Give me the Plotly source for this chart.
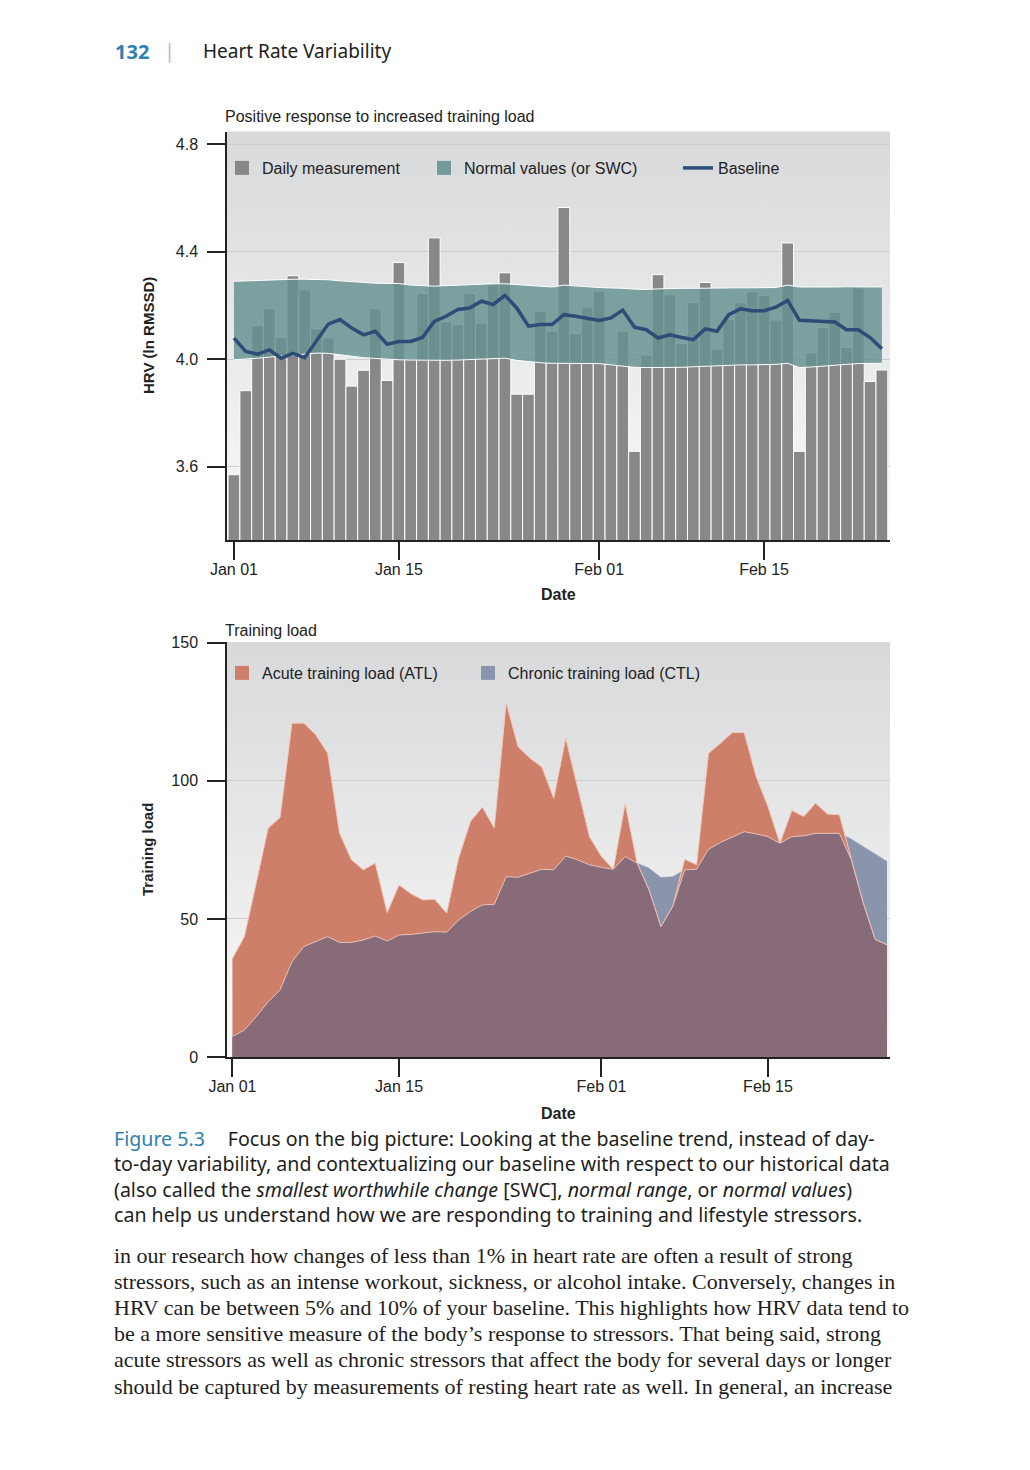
import base64
import numpy as np
import pandas as pd
import plotly.graph_objects as go

##### Data #####
days = pd.date_range('2021-01-01', periods=56, freq='D')

# daily HRV (ln RMSSD)
hrv_daily = [3.570, 3.883, 4.125, 4.188, 4.081, 4.311, 4.259, 4.113, 4.080, 4.000,
             3.900, 3.959, 4.188, 3.921, 4.360, 4.000, 4.245, 4.452, 4.140, 4.129,
             4.245, 4.135, 4.279, 4.322, 3.870, 3.870, 4.178, 4.103, 4.565, 4.096,
             4.194, 4.254, 3.982, 4.105, 3.657, 4.016, 4.315, 4.240, 4.059, 4.211,
             4.286, 4.037, 4.149, 4.210, 4.252, 4.237, 4.146, 4.433, 3.657, 4.024,
             4.118, 4.175, 4.044, 4.266, 3.917, 3.960]

# normal values (SWC band)
swc_upper = [4.290, 4.292, 4.294, 4.296, 4.297, 4.298, 4.298, 4.297, 4.296, 4.292,
             4.289, 4.285, 4.283, 4.282, 4.282, 4.276, 4.273, 4.272, 4.274, 4.276,
             4.278, 4.279, 4.281, 4.281, 4.278, 4.275, 4.272, 4.269, 4.276, 4.274,
             4.270, 4.267, 4.266, 4.264, 4.261, 4.260, 4.262, 4.264, 4.264, 4.264,
             4.265, 4.264, 4.265, 4.266, 4.266, 4.266, 4.267, 4.276, 4.269, 4.269,
             4.268, 4.269, 4.270, 4.270, 4.269, 4.269]
swc_lower = [3.998, 4.000, 4.004, 4.008, 4.012, 4.017, 4.021, 4.023, 4.022, 4.016,
             4.010, 4.006, 4.003, 4.000, 3.998, 3.997, 3.996, 3.996, 3.996, 3.997,
             3.999, 4.002, 4.004, 4.004, 3.996, 3.991, 3.987, 3.985, 3.985, 3.985,
             3.985, 3.984, 3.979, 3.975, 3.970, 3.969, 3.969, 3.969, 3.970, 3.972,
             3.974, 3.976, 3.978, 3.979, 3.979, 3.980, 3.981, 3.985, 3.969, 3.971,
             3.975, 3.978, 3.981, 3.984, 3.985, 3.985]

# baseline (rolling average)
baseline = [4.079, 4.029, 4.019, 4.035, 4.004, 4.022, 4.006, 4.066, 4.131, 4.148,
            4.116, 4.091, 4.104, 4.056, 4.066, 4.066, 4.081, 4.141, 4.160, 4.185,
            4.191, 4.216, 4.204, 4.238, 4.191, 4.123, 4.129, 4.129, 4.166, 4.160,
            4.151, 4.144, 4.154, 4.183, 4.119, 4.110, 4.079, 4.091, 4.081, 4.073,
            4.113, 4.104, 4.166, 4.188, 4.181, 4.181, 4.194, 4.219, 4.145, 4.144,
            4.141, 4.139, 4.110, 4.110, 4.081, 4.039]

# training load
atl = [35.7, 43.6, 63.0, 82.9, 86.7, 120.9, 120.9, 116.7, 110.0, 81.0,
       71.4, 67.8, 70.2, 52.3, 62.3, 59.1, 56.9, 57.1, 52.1, 72.0,
       85.3, 90.5, 82.9, 128.4, 112.4, 108.2, 105.0, 93.7, 115.5, 97.9,
       79.8, 72.6, 68.0, 91.9, 70.2, 60.5, 47.2, 54.5, 71.6, 69.6,
       110.0, 113.6, 117.5, 117.5, 101.6, 90.7, 77.4, 89.3, 87.1, 91.9,
       88.0, 87.7, 71.4, 55.7, 42.6, 40.6]
ctl = [7.4, 9.8, 14.6, 20.0, 24.3, 34.5, 40.0, 41.8, 43.6, 41.5,
       41.5, 42.4, 43.8, 42.0, 44.2, 44.4, 44.8, 45.4, 45.2, 49.6,
       52.7, 55.1, 55.3, 65.3, 65.1, 66.5, 68.0, 67.8, 72.8, 71.4,
       69.6, 68.7, 68.0, 72.6, 70.2, 68.4, 65.0, 65.3, 67.8, 68.0,
       75.2, 77.7, 79.8, 81.6, 80.8, 79.8, 77.7, 79.8, 80.1, 81.0,
       81.0, 81.0, 78.9, 76.2, 73.2, 70.8]

date_ticks = ['2021-01-01', '2021-01-15', '2021-02-01', '2021-02-15']
date_labels = ['Jan 01', 'Jan 15', 'Feb 01', 'Feb 15']
hrv_ticks = [3.6, 4.0, 4.4, 4.8]
load_ticks = [0, 50, 100, 150]

##### Styling #####
# the browser page keeps its 8px body margin, so the figure is 16px smaller
PAGE_MARGIN = 8
W, H = 1030 - 2 * PAGE_MARGIN, 1470 - 2 * PAGE_MARGIN
BAR_GREY = '#88888b'
TEAL = 'rgba(102,144,144,0.83)'
NAVY = '#2c4d77'
ORANGE = '#cd7f69'
SLATE = '#8a94ad'
MAUVE = '#876b78'
INK = '#222222'
BLUE_TXT = '#2f80b0'
CHART_FONT = 'Liberation Sans'
SANS = 'Noto Sans'
SERIF = 'Liberation Serif'

# soft grey-to-white background of the plot areas
grad_svg = (
    "<svg xmlns='http://www.w3.org/2000/svg' width='10' height='100' preserveAspectRatio='none'>"
    "<defs><linearGradient id='g' x1='0' y1='0' x2='0' y2='1'>"
    "<stop offset='0' stop-color='#d8d9db'/><stop offset='1' stop-color='#f9f9f9'/>"
    "</linearGradient></defs><rect width='10' height='100' fill='url(#g)'/></svg>"
)
GRAD_SRC = 'data:image/svg+xml;base64,' + base64.b64encode(grad_svg.encode()).decode()


# page pixel -> paper fraction
def px_x(p):
    return (p - PAGE_MARGIN) / W


def px_y(p):
    return 1 - (p - PAGE_MARGIN) / H


fig = go.Figure()

##### Top panel: HRV #####
fig.add_trace(go.Bar(
    x=days, y=hrv_daily, width=86400000,
    marker=dict(color=BAR_GREY, line=dict(color='white', width=1)),
    showlegend=False, xaxis='x', yaxis='y'
))
fig.add_trace(go.Scatter(
    x=days, y=swc_lower, mode='lines', line=dict(color='white', width=1),
    showlegend=False, hoverinfo='skip', xaxis='x', yaxis='y'
))
fig.add_trace(go.Scatter(
    x=days, y=swc_upper, mode='lines', line=dict(color='white', width=1),
    fill='tonexty', fillcolor=TEAL,
    showlegend=False, xaxis='x', yaxis='y'
))
fig.add_trace(go.Scatter(
    x=days, y=baseline, mode='lines', line=dict(color=NAVY, width=3.5),
    name='Baseline', xaxis='x', yaxis='y', legend='legend3'
))

##### Bottom panel: training load #####
overlap = np.minimum(atl, ctl)
fig.add_trace(go.Scatter(
    x=days, y=ctl, mode='lines', line=dict(color=SLATE, width=0.5),
    fill='tozeroy', fillcolor=SLATE,
    showlegend=False, xaxis='x2', yaxis='y2'
))
fig.add_trace(go.Scatter(
    x=days, y=atl, mode='lines', line=dict(color='#f2c9b8', width=1),
    fill='tozeroy', fillcolor=ORANGE,
    showlegend=False, xaxis='x2', yaxis='y2'
))
fig.add_trace(go.Scatter(
    x=days, y=overlap, mode='lines', line=dict(color='#e9c2b6', width=1),
    fill='tozeroy', fillcolor=MAUVE,
    showlegend=False, xaxis='x2', yaxis='y2'
))

# square legend swatches
swatches = [
    ('Daily measurement', BAR_GREY, 'legend', 'x', 'y'),
    ('Normal values (or SWC)', '#74999a', 'legend2', 'x', 'y'),
    ('Acute training load (ATL)', ORANGE, 'legend4', 'x2', 'y2'),
    ('Chronic training load (CTL)', SLATE, 'legend5', 'x2', 'y2'),
]
for name, col, leg, xa, ya in swatches:
    fig.add_trace(go.Scatter(
        x=[None], y=[None], mode='markers', name=name,
        marker=dict(symbol='square', size=14, color=col),
        xaxis=xa, yaxis=ya, legend=leg
    ))

##### Axes #####
axis_common = dict(
    ticks='outside', ticklen=18, tickwidth=1.5, tickcolor=INK,
    showline=True, linecolor=INK, linewidth=1.5,
    tickfont=dict(family=CHART_FONT, size=16, color=INK),
    zeroline=False, automargin=False,
)

fig.update_layout(
    xaxis=dict(
        domain=[px_x(227), px_x(890)], anchor='y',
        range=['2020-12-31 09:45', '2021-02-25 16:33'],
        tickvals=date_ticks, ticktext=date_labels, showgrid=False,
        ticklabelstandoff=-4,
        **axis_common
    ),
    yaxis=dict(
        domain=[px_y(540), px_y(131.5)], anchor='x',
        range=[3.327, 4.848], tickvals=hrv_ticks, tickformat='.1f',
        showgrid=True, gridcolor='#cbccce', gridwidth=1,
        ticklabelstandoff=6,
        **axis_common
    ),
    xaxis2=dict(
        domain=[px_x(227), px_x(890)], anchor='y2',
        range=['2020-12-31 13:00', '2021-02-25 06:00'],
        tickvals=date_ticks, ticktext=date_labels, showgrid=False,
        ticklabelstandoff=-4,
        **axis_common
    ),
    yaxis2=dict(
        domain=[px_y(1057), px_y(642)], anchor='x2',
        range=[0, 150.3], tickvals=load_ticks,
        showgrid=True, gridcolor='#cbccce', gridwidth=1,
        ticklabelstandoff=6,
        **axis_common
    ),
)

for xa, ya in [('x', 'y'), ('x2', 'y2')]:
    fig.add_layout_image(
        source=GRAD_SRC, xref=xa + ' domain', yref=ya + ' domain',
        x=0, y=1, sizex=1, sizey=1, xanchor='left', yanchor='top',
        sizing='stretch', layer='below'
    )

##### Legends #####
leg_common = dict(
    orientation='h', yanchor='middle', xanchor='left',
    bgcolor='rgba(0,0,0,0)', borderwidth=0,
    font=dict(family=CHART_FONT, size=16, color=INK),
)
fig.update_layout(
    legend=dict(x=px_x(222), y=px_y(168), **leg_common),
    legend2=dict(x=px_x(424), y=px_y(168), **leg_common),
    legend3=dict(x=px_x(678), y=px_y(168), **leg_common),
    legend4=dict(x=px_x(222), y=px_y(673), **leg_common),
    legend5=dict(x=px_x(468), y=px_y(673), **leg_common),
)

##### Text #####
notes = []


def note(text, x, y, size, family=CHART_FONT, color=INK, xanchor='left', angle=0):
    notes.append(dict(
        text=text, x=px_x(x), y=px_y(y), xref='paper', yref='paper',
        xanchor=xanchor, yanchor='middle', align='left', showarrow=False,
        textangle=angle, borderpad=0,
        font=dict(family=family, size=size, color=color),
    ))


# page header
note('<b>132</b>', 114, 51, 20, SANS, BLUE_TXT)
note('|', 163, 50, 20, SANS, '#bbbbbb')
note('Heart Rate Variability', 202, 51, 19, SANS, '#222222')

# chart titles
note('Positive response to increased training load', 224, 116, 16)
note('Training load', 224, 630, 16)
note('<b>HRV (ln RMSSD)</b>', 148, 336, 15, xanchor='center', angle=-90)
note('<b>Training load</b>', 147, 850, 15, xanchor='center', angle=-90)
note('<b>Date</b>', 558, 595, 16, xanchor='center')
note('<b>Date</b>', 558, 1113, 16, xanchor='center')

# figure caption (one block, ~25px line pitch)
caption = [
    f"<span style='color:{BLUE_TXT}'>Figure 5.3</span>\u2003\u2009"
    'Focus on the big picture: Looking at the baseline trend, instead of day-',
    'to-day variability, and contextualizing our baseline with respect to our historical data',
    '(also called the <i>smallest worthwhile change</i> [SWC], <i>normal range</i>, or <i>normal values</i>)',
    'can help us understand how we are responding to training and lifestyle stressors.',
]
note('<br>'.join(caption), 113, 1176, 19.6, SANS, '#1e1e1e')

# body text, one line per annotation
body = [
    'in our research how changes of less than 1% in heart rate are often a result of strong',
    'stressors, such as an intense workout, sickness, or alcohol intake. Conversely, changes in',
    'HRV can be between 5% and 10% of your baseline. This highlights how HRV data tend to',
    'be a more sensitive measure of the body\u2019s response to stressors. That being said, strong',
    'acute stressors as well as chronic stressors that affect the body for several days or longer',
    'should be captured by measurements of resting heart rate as well. In general, an increase',
]
for i, line in enumerate(body):
    note(line, 113, 1255 + 26.2 * i, 22, SERIF, '#1e1e1e')

fig.update_layout(
    annotations=notes,
    width=W, height=H, autosize=False,
    margin=dict(l=0, r=0, t=0, b=0, pad=0, autoexpand=False),
    paper_bgcolor='white',
    plot_bgcolor='#e4e5e7',
    barmode='overlay',
    hovermode=False,
)

fig.write_html('out.html')
